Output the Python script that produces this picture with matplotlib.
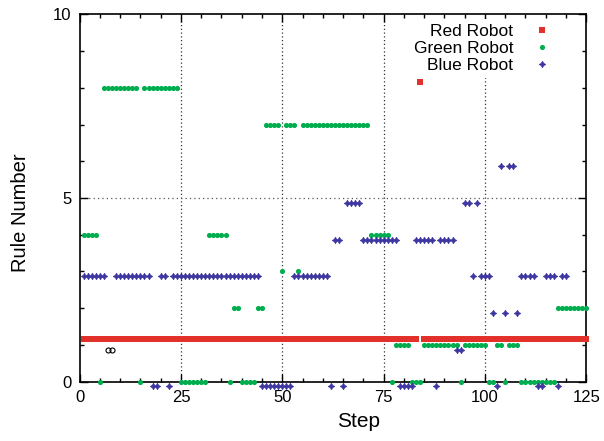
import numpy as np
import matplotlib
matplotlib.use('Agg')
from matplotlib import pyplot as plt
from matplotlib.ticker import MultipleLocator

plt.rcParams['font.family'] = ['Liberation Sans', 'DejaVu Sans']

# rule number used by each robot at every step (steps 1..125)
steps = list(range(1, 126))

red_rule = [1] * 83 + [8] + [1] * 41

green_rule = [
    4, 4, 4, 4, 0, 8, 8, 8, 8, 8, 8, 8, 8, 8, 0, 8, 8, 8, 8, 8, 8, 8, 8, 8, 0,
    0, 0, 0, 0, 0, 0, 4, 4, 4, 4, 4, 0, 2, 2, 0, 0, 0, 0, 2, 2, 7, 7, 7, 7, 3,
    7, 7, 7, 3, 7, 7, 7, 7, 7, 7, 7, 7, 7, 7, 7, 7, 7, 7, 7, 7, 7, 4, 4, 4, 4,
    4, 0, 1, 1, 1, 1, 0, 0, 0, 1, 1, 1, 1, 1, 1, 1, 1, 1, 0, 1, 1, 1, 1, 1, 1,
    0, 0, 1, 1, 0, 1, 1, 1, 0, 0, 0, 0, 0, 0, 0, 0, 0, 2, 2, 2, 2, 2, 2, 2, 2,
]

N = None
blue_rule = [
    3, 3, 3, 3, 3, 3, N, N, 3, 3, 3, 3, 3, 3, 3, 3, 3, 0, 0, 3, 3, 0, 3, 3, 3,
    3, 3, 3, 3, 3, 3, 3, 3, 3, 3, 3, 3, 3, 3, 3, 3, 3, 3, 3, 0, 0, 0, 0, 0, 0,
    0, 0, 3, 3, 3, 3, 3, 3, 3, 3, 3, 0, 4, 4, 0, 5, 5, 5, 5, 4, 4, 4, 4, 4, 4,
    4, 4, 4, 0, 0, 0, 0, 4, 4, 4, 4, 4, 0, 4, 4, 4, 4, 1, 1, 5, 5, 3, 5, 3, 3,
    3, 2, 0, 6, 2, 6, 6, 2, 3, 3, 3, 3, 0, 0, 3, 3, 3, 0, 3, 3, N, N, N, N, N,
]

# two odd open markers near the start
odd_steps = [7, 8]
odd_rule = [1, 1]

red_off = 0.15
blue_off = -0.13


def main():
    fig = plt.figure(figsize=(6.04, 4.41), dpi=100)
    ax = fig.add_axes([0.1318, 0.1345, 0.8389, 0.8331])

    x = np.array(steps)
    r = np.array(red_rule, dtype=float) + red_off
    g = np.array(green_rule, dtype=float)
    b = np.array([np.nan if v is None else v for v in blue_rule], dtype=float) + blue_off

    ax.plot(x, r, 's', color='#e2312a', ms=3.9, mew=0, label='Red Robot', clip_on=False, zorder=3)
    ax.plot(x, g, 'o', color='#00ad4e', ms=3.7, mew=0, label='Green Robot', clip_on=False, zorder=4)
    ax.plot(x, b, marker=(4, 1, 0), ls='none', color='#3d35a0', ms=4.6, mew=0.6,
            label='Blue Robot', clip_on=False, zorder=5)
    ax.plot(odd_steps, np.array(odd_rule) + blue_off, 'o', mfc='none', mec='black',
            ms=3.6, mew=0.8, clip_on=False, zorder=5)

    ax.set_xlim(0, 125)
    ax.set_ylim(0, 10)
    ax.xaxis.set_major_locator(MultipleLocator(25))
    ax.xaxis.set_minor_locator(MultipleLocator(5))
    ax.yaxis.set_major_locator(MultipleLocator(5))
    ax.yaxis.set_minor_locator(MultipleLocator(1))
    ax.tick_params(which='both', direction='in', top=True, right=True, width=1)
    ax.tick_params(which='major', length=6, labelsize=12, pad=6)
    ax.tick_params(which='minor', length=3)

    for v in [25, 50, 75, 100]:
        ax.axvline(v, color='#333333', ls=(0, (1, 2)), lw=0.9, zorder=1)
    ax.axhline(5, color='#555555', ls=(0, (1, 2.5)), lw=0.9, zorder=1)

    for s in ax.spines.values():
        s.set_linewidth(1.2)

    ax.set_xlabel('Step', fontsize=15, labelpad=2)
    ax.xaxis.set_label_coords(0.55, -0.082, transform=ax.transAxes)
    ax.set_ylabel('Rule Number', fontsize=14.5, labelpad=11)
    ax.yaxis.set_label_coords(-0.097, 0.46, transform=ax.transAxes)

    leg = ax.legend(loc='upper right', bbox_to_anchor=(0.957, 1.0), frameon=True,
                    markerfirst=False, fontsize=12.5, labelspacing=0.1, handletextpad=0.9,
                    handlelength=1.5, borderaxespad=0.25, borderpad=0.3, fancybox=False)
    leg.get_frame().set_facecolor('white')
    leg.get_frame().set_edgecolor('none')
    leg.get_frame().set_alpha(1)
    leg.set_zorder(2)

    fig.savefig('out.png', dpi=100)


if __name__ == '__main__':
    main()
